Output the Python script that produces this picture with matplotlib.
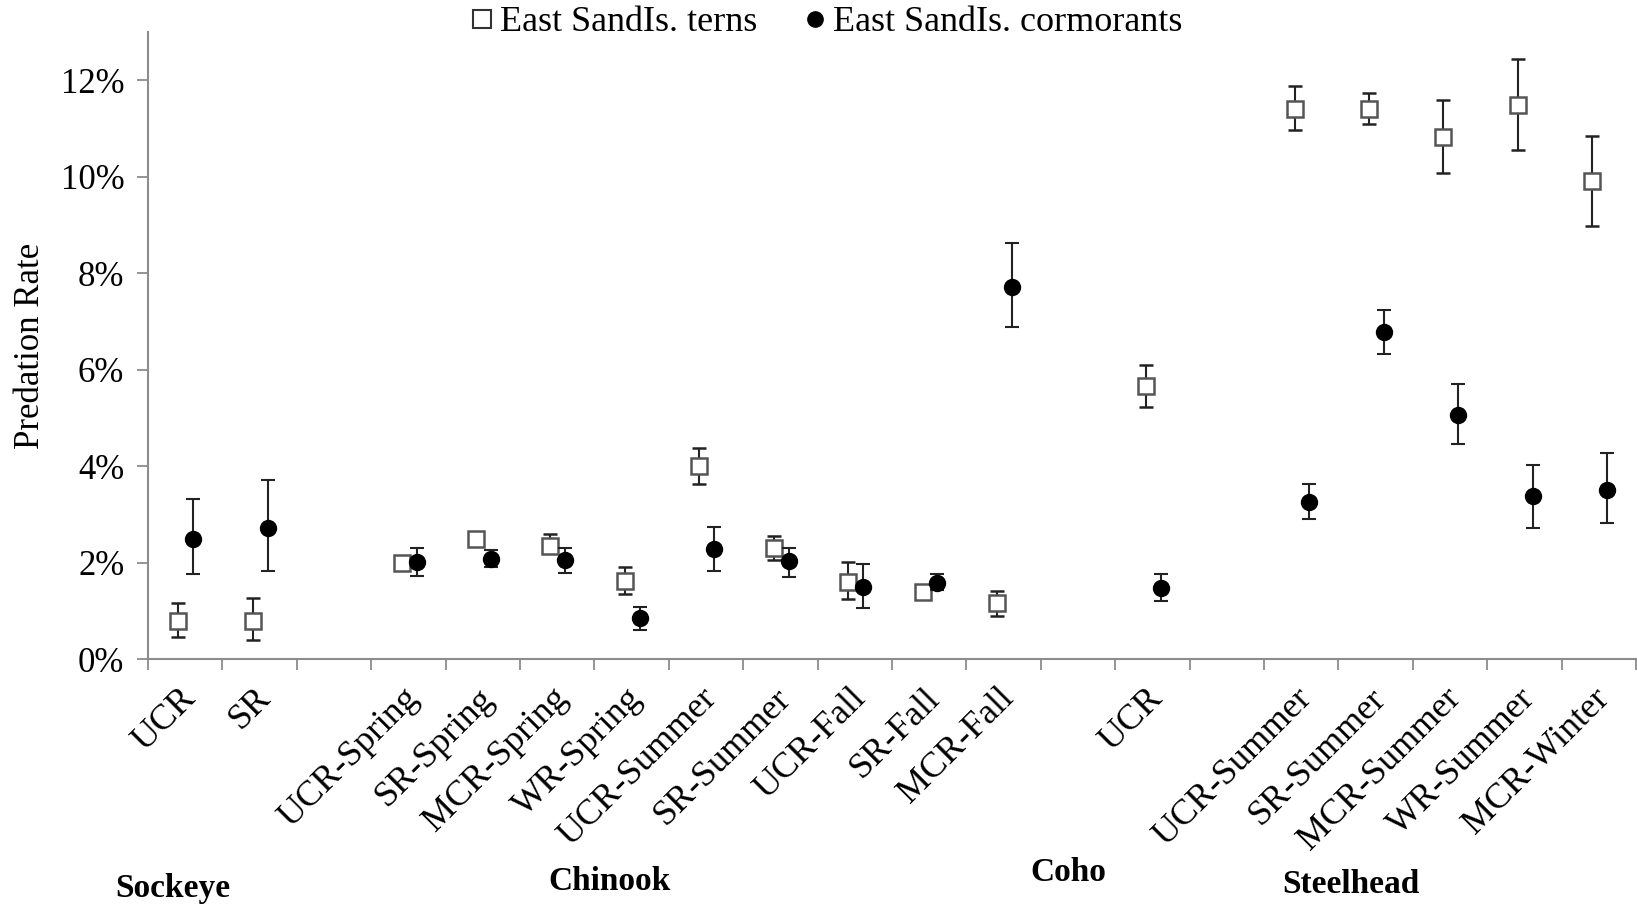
import numpy as np
import matplotlib
matplotlib.use('Agg')
import matplotlib.pyplot as plt
from matplotlib.lines import Line2D
from matplotlib.transforms import ScaledTranslation, blended_transform_factory

nan = np.nan

# one slot per run, empty slots separate the species groups
runs = ['UCR', 'SR', '',
        'UCR-Spring', 'SR-Spring', 'MCR-Spring', 'WR-Spring', 'UCR-Summer',
        'SR-Summer', 'UCR-Fall', 'SR-Fall', 'MCR-Fall', '',
        'UCR', '',
        'UCR-Summer', 'SR-Summer', 'MCR-Summer', 'WR-Summer', 'MCR-Winter']

# predation rates (%) with lower / upper limits
tern_rate = [0.80, 0.80, nan, 2.00, 2.49, 2.35, 1.63, 4.01, 2.30, 1.61, 1.39, 1.16, nan,
             5.66, nan, 11.41, 11.41, 10.82, 11.49, 9.90]
tern_low = [0.46, 0.40, nan, 1.90, 2.38, 2.20, 1.36, 3.63, 2.06, 1.25, 1.30, 0.91, nan,
            5.22, nan, 10.96, 11.08, 10.08, 10.55, 8.97]
tern_high = [1.18, 1.28, nan, 2.10, 2.58, 2.60, 1.91, 4.37, 2.56, 2.01, 1.48, 1.42, nan,
             6.10, nan, 11.88, 11.73, 11.59, 12.44, 10.85]

corm_rate = [2.50, 2.72, nan, 2.02, 2.09, 2.05, 0.85, 2.29, 2.03, 1.51, 1.59, 7.71, nan,
             1.47, nan, 3.26, 6.79, 5.06, 3.38, 3.52]
corm_low = [1.78, 1.83, nan, 1.73, 1.91, 1.80, 0.61, 1.83, 1.71, 1.06, 1.44, 6.88, nan,
            1.21, nan, 2.91, 6.33, 4.46, 2.73, 2.83]
corm_high = [3.32, 3.71, nan, 2.31, 2.27, 2.31, 1.09, 2.75, 2.30, 1.98, 1.76, 8.62, nan,
             1.76, nan, 3.64, 7.24, 5.71, 4.02, 4.27]

groups = ['Sockeye', 'Chinook', 'Coho', 'Steelhead']
group_x = [-0.16, 5.7, 11.87, 15.67]
group_y = [0.020, 0.028, 0.038, 0.025]

plt.rcParams['font.family'] = ['Liberation Serif', 'DejaVu Serif']

fig = plt.figure(figsize=(16.37, 9.07), dpi=100)
ax = fig.add_axes([0.0904, 0.2729, 0.909, 0.6921])

x = np.arange(len(runs))
tr = np.array(tern_rate)
cr = np.array(corm_rate)
t_err = [tr - np.array(tern_low), np.array(tern_high) - tr]
c_err = [cr - np.array(corm_low), np.array(corm_high) - cr]

ax.errorbar(x - 0.09, tr, yerr=t_err, fmt='s', ms=12, mfc='white', mec='#555555',
            mew=1.8, ecolor='#222222', elinewidth=1.5, capsize=5, capthick=1.5, zorder=3)
ax.errorbar(x + 0.11, cr, yerr=c_err, fmt='o', ms=11.5, mfc='black', mec='black',
            ecolor='#222222', elinewidth=1.5, capsize=5, capthick=1.5, zorder=4)

ax.set_xlim(-0.5, len(runs) - 0.5)
ax.set_ylim(0, 13)
ax.set_yticks(np.arange(0, 13, 2))
ax.set_yticklabels(['%d%%' % v for v in range(0, 13, 2)])

# slot boundaries carry the ticks, slot centres carry the labels
ax.set_xticks(np.arange(-0.5, len(runs)))
ax.set_xticklabels([])
ax.set_xticks(x, minor=True)
ax.set_xticklabels(runs, minor=True, rotation=45, ha='right', va='top',
                   rotation_mode='anchor', fontsize=26)
ax.tick_params(axis='x', which='minor', length=0, pad=16)
ax.tick_params(axis='x', which='major', length=8, width=1.3, color='#8c8c8c', direction='out')
ax.tick_params(axis='y', length=8, width=1.3, color='#8c8c8c', direction='out',
               labelsize=25, pad=9)
shift = ScaledTranslation(-0.06, 0, fig.dpi_scale_trans)
for lab in ax.get_xticklabels(minor=True):
    lab.set_transform(lab.get_transform() + shift)

for side in ['top', 'right']:
    ax.spines[side].set_visible(False)
for side in ['left', 'bottom']:
    ax.spines[side].set_color('#8c8c8c')
    ax.spines[side].set_linewidth(1.5)

ax.set_ylabel('Predation Rate', fontsize=25)
ax.yaxis.set_label_coords(-0.068, 0.5)

trans = blended_transform_factory(ax.transData, fig.transFigure)
for name, gx, gy in zip(groups, group_x, group_y):
    ax.text(gx, gy, name, transform=trans, ha='center', va='center',
            fontsize=24, fontweight='bold', clip_on=False)

handles = [Line2D([], [], ls='none', marker='s', ms=13, mfc='white', mec='#333333', mew=1.5),
           Line2D([], [], ls='none', marker='o', ms=11, mfc='black', mec='black')]
fig.legend(handles, ['East SandIs. terns', 'East SandIs. cormorants'], loc='center',
           bbox_to_anchor=(0.503, 0.975), ncol=2, frameon=False, fontsize=26,
           handletextpad=0.0, columnspacing=1.1, handlelength=1.0)

fig.savefig('out.png', dpi=100)
